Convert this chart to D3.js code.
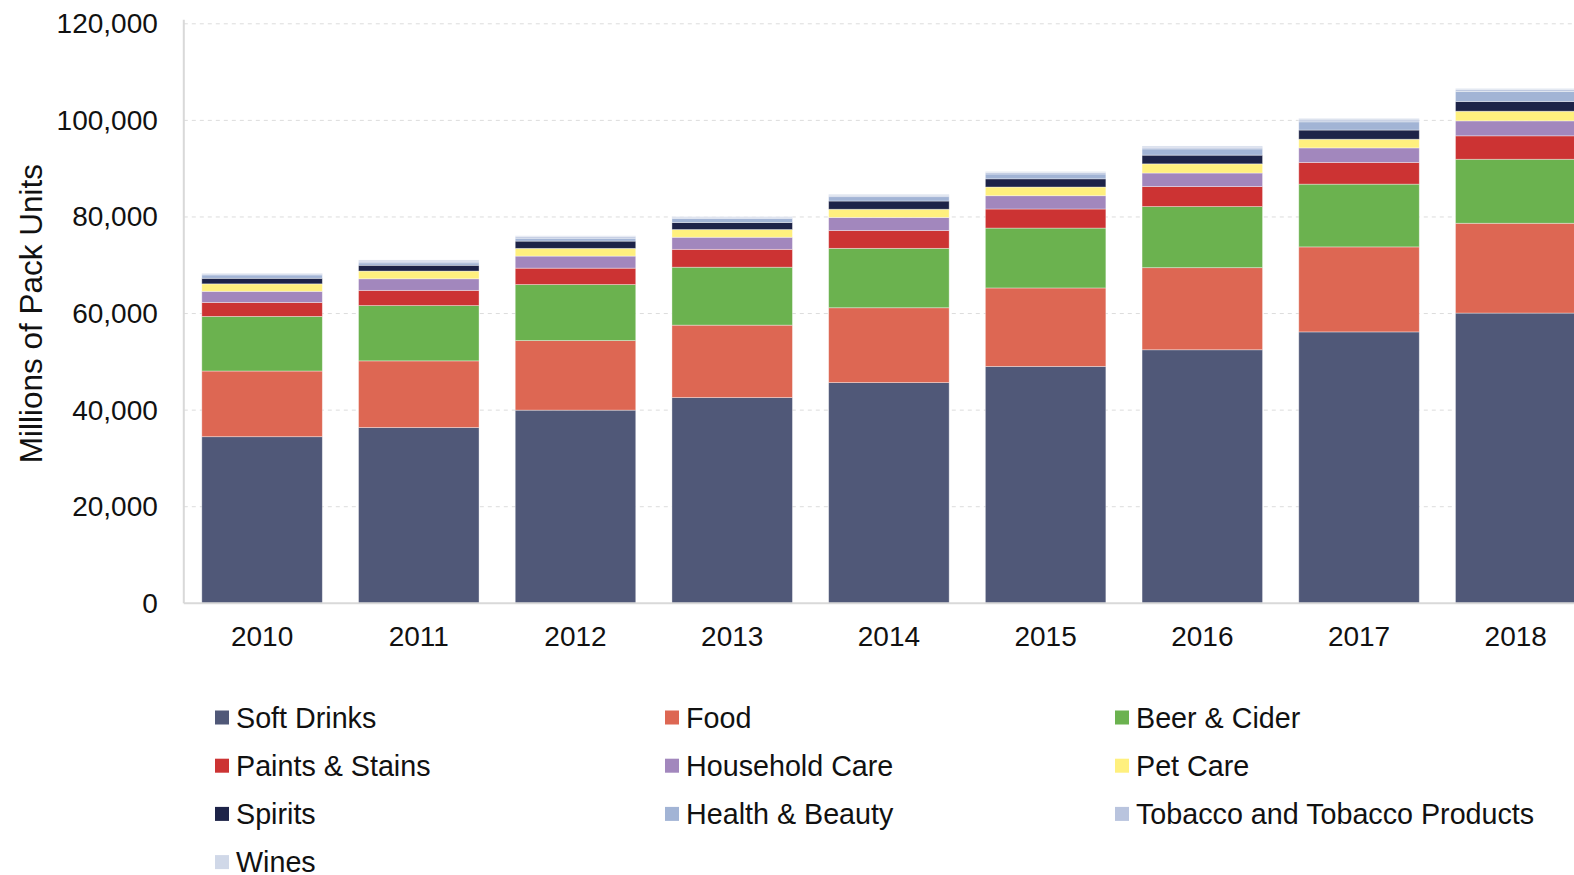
<!DOCTYPE html>
<html>
<head>
<meta charset="utf-8">
<script src="https://cdn.jsdelivr.net/npm/d3@7"></script>
<style>
  html, body { margin: 0; padding: 0; background: #fff; overflow: hidden; }
  svg { display: block; font-family: "Liberation Sans", Arial, Helvetica, sans-serif; }
</style>
</head>
<body>
<svg id="chart" width="1574" height="875"></svg>
<script>
// Years on the category axis
const years = ["2010", "2011", "2012", "2013", "2014", "2015", "2016", "2017", "2018"];

// Series names, bottom of the stack first
const seriesNames = [
  "Soft Drinks", "Food", "Beer & Cider", "Paints & Stains", "Household Care",
  "Pet Care", "Spirits", "Health & Beauty", "Tobacco and Tobacco Products", "Wines"
];

// Millions of pack units per series, one value per year
const softDrinks    = [34500, 36400, 40000, 42600, 45700, 49050, 52500, 56200, 60100];
const food          = [13600, 13800, 14400, 15000, 15500, 16250, 17000, 17600, 18600];
const beerCider     = [11300, 11450, 11600, 12000, 12300, 12400, 12650, 13000, 13250];
const paintsStains  = [ 2900,  3150,  3400,  3700,  3700,  3950,  4150,  4500,  4850];
const householdCare = [ 2300,  2400,  2500,  2500,  2700,  2750,  2800,  3000,  3100];
const petCare       = [ 1550,  1600,  1600,  1600,  1700,  1800,  1900,  1800,  2000];
const spirits       = [ 1150,  1200,  1500,  1450,  1700,  1700,  1800,  1900,  2000];
const healthBeauty  = [  700,   500,   600,   850,   900,  1000,  1300,  1700,  2100];
const tobacco       = [  200,   350,   300,   250,   300,   300,   350,   400,   350];
const wines         = [  150,   250,   200,   150,   200,   200,   250,   300,   250];

// Axis tick values
const yTicks = [0, 20000, 40000, 60000, 80000, 100000, 120000];

const seriesValues = [softDrinks, food, beerCider, paintsStains, householdCare,
                      petCare, spirits, healthBeauty, tobacco, wines];
const colors = ["#505878", "#dd6753", "#6bb24f", "#cc3333", "#a287bd",
                "#fff07e", "#1d2348", "#a2b4d5", "#b9c4de", "#d0d8e8"];

// Row table for d3.stack
const rows = years.map((yr, i) => {
  const r = { year: yr };
  seriesNames.forEach((name, s) => { r[name] = seriesValues[s][i]; });
  return r;
});

const svg = d3.select("#chart");
const plotLeft = 183.8, plotRight = 1594, plotTop = 23.8, plotBottom = 603.3;

const x = d3.scaleBand().domain(years).range([plotLeft, plotRight])
  .paddingInner(0.231).paddingOuter(0.115);
const y = d3.scaleLinear().domain([0, 120000]).range([plotBottom, plotTop]);
const color = d3.scaleOrdinal().domain(seriesNames).range(colors);

// Dashed gridlines
svg.append("g")
  .selectAll("line")
  .data(yTicks.filter(d => d > 0))
  .join("line")
  .attr("x1", plotLeft).attr("x2", plotRight)
  .attr("y1", d => y(d)).attr("y2", d => y(d))
  .attr("stroke", "#dcdcdc").attr("stroke-width", 1)
  .attr("stroke-dasharray", "4,4");

// Stacked bars
const stacked = d3.stack().keys(seriesNames)(rows);
svg.append("g")
  .selectAll("g")
  .data(stacked)
  .join("g")
  .attr("fill", d => color(d.key))
  .selectAll("rect")
  .data(d => d)
  .join("rect")
  .attr("x", d => x(d.data.year))
  .attr("width", x.bandwidth())
  .attr("y", d => y(d[1]))
  .attr("height", d => y(d[0]) - y(d[1]))
  .attr("stroke", "rgba(255,255,255,0.45)")
  .attr("stroke-width", 0.8);

// Y axis
const yAxis = d3.axisLeft(y).tickValues(yTicks).tickSize(0).tickPadding(26)
  .tickFormat(d3.format(","));
const gy = svg.append("g").attr("transform", `translate(${plotLeft},0)`).call(yAxis);
gy.select(".domain").attr("stroke", "#d9d9d9").attr("stroke-width", 2)
  .attr("d", `M0,${plotTop - 4}V${plotBottom}`);
gy.selectAll("text").attr("font-size", 28).attr("fill", "#111")
  .attr("font-family", "Liberation Sans, Arial, sans-serif");

// X axis
const xAxis = d3.axisBottom(x).tickSize(0).tickPadding(23);
const gx = svg.append("g").attr("transform", `translate(0,${plotBottom})`).call(xAxis);
gx.select(".domain").attr("stroke", "#d9d9d9").attr("stroke-width", 2)
  .attr("d", `M${plotLeft},0H${plotRight}`);
gx.selectAll("text").attr("font-size", 28).attr("fill", "#111")
  .attr("font-family", "Liberation Sans, Arial, sans-serif");

// Y axis title
svg.append("text")
  .attr("transform", `translate(42,${(plotTop + plotBottom) / 2}) rotate(-90)`)
  .attr("text-anchor", "middle")
  .attr("font-size", 31.5)
  .attr("fill", "#111")
  .text("Millions of Pack Units");

// Legend, three columns
const legendCols = [215, 665, 1115];
const legendRow0 = 717.5, legendRowStep = 48.2;
const legend = svg.append("g")
  .selectAll("g")
  .data(seriesNames)
  .join("g")
  .attr("transform", (d, i) =>
    `translate(${legendCols[i % 3]},${legendRow0 + Math.floor(i / 3) * legendRowStep})`);
legend.append("rect")
  .attr("x", 0).attr("y", -7).attr("width", 14).attr("height", 14)
  .attr("fill", d => color(d));
legend.append("text")
  .attr("x", 21).attr("y", 0).attr("dy", "0.36em")
  .attr("font-size", 28.7).attr("fill", "#111")
  .text(d => d);
</script>
</body>
</html>
